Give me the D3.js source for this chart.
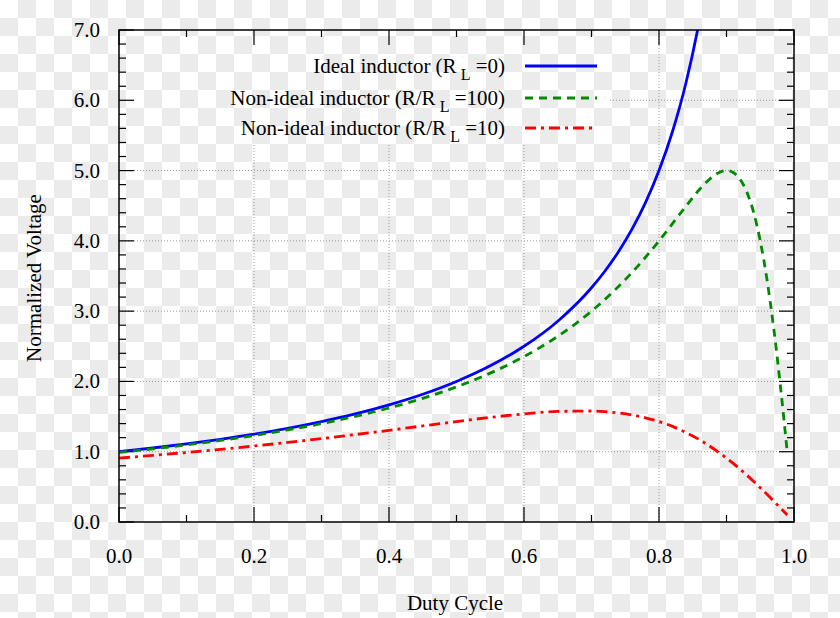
<!DOCTYPE html>
<html><head><meta charset="utf-8">
<script src="https://cdn.jsdelivr.net/npm/d3@7"></script>
<style>body{margin:0;padding:0;overflow:hidden;background:#fff}svg{display:block}</style>
</head><body>
<svg id="chart" width="840" height="618"></svg>
<script>
// Data
const duty = [0,0.05,0.1,0.15,0.2,0.25,0.3,0.35,0.4,0.45,0.5,0.55,0.6,0.65,0.7,0.72,0.74,0.76,0.78,0.8,0.82,0.84,0.86,0.88,0.89,0.9,0.91,0.92,0.93,0.94,0.95,0.96,0.97,0.98,0.99];
const ideal = [1.0,1.053,1.111,1.176,1.25,1.333,1.429,1.538,1.667,1.818,2.0,2.222,2.5,2.857,3.333,3.571,3.846,4.167,4.545,5.0,5.556,6.25,7.143,8.333,null,null,null,null,null,null,null,null,null,null,null];
const nonIdeal100 = [0.990,1.041,1.098,1.160,1.231,1.310,1.400,1.503,1.622,1.760,1.923,2.118,2.353,2.642,3.0,3.167,3.351,3.550,3.767,4.0,4.245,4.494,4.730,4.918,4.977,5.0,4.972,4.878,4.698,4.412,4.0,3.448,2.752,1.923,0.990];
const nonIdeal10 = [0.909,0.948,0.989,1.033,1.081,1.132,1.186,1.244,1.304,1.367,1.429,1.488,1.538,1.573,1.579,1.570,1.551,1.523,1.483,1.429,1.360,1.274,1.171,1.049,0.981,0.909,0.833,0.752,0.667,0.579,0.488,0.394,0.297,0.199,0.100];
const xTicks = [0,0.2,0.4,0.6,0.8,1.0];
const yTicks = [0,1,2,3,4,5,6,7];
const seriesNames = ["Ideal inductor (R", "Non-ideal inductor (R/R", "Non-ideal inductor (R/R"];
const seriesTails = [" =0)", " =100)", " =10)"];
const seriesColors = ["#0000ff", "#008a00", "#ff0000"];
const seriesDash = [null, "8,6", "11,5,3,5"];

const svg = d3.select("#chart");
const W = 840, H = 618;
const L = 119, R = 794, T = 30, B = 522;

// checkerboard background
const defs = svg.append("defs");
const pat = defs.append("pattern").attr("id","chk").attr("width",36).attr("height",36).attr("patternUnits","userSpaceOnUse");
pat.append("rect").attr("width",36).attr("height",36).attr("fill","#ffffff");
pat.append("rect").attr("x",18).attr("y",0).attr("width",18).attr("height",18).attr("fill","#ebebeb");
pat.append("rect").attr("x",0).attr("y",18).attr("width",18).attr("height",18).attr("fill","#ebebeb");
svg.append("rect").attr("width",W).attr("height",H).attr("fill","url(#chk)");

defs.append("clipPath").attr("id","clip").append("rect").attr("x",L).attr("y",T).attr("width",R-L).attr("height",B-T);

const x = d3.scaleLinear().domain([0,1]).range([L,R]);
const y = d3.scaleLinear().domain([0,7]).range([B,T]);

const font = "'Liberation Serif','Times New Roman',serif";
const fs = 21;

// grid (dotted), leaving the key area free
const grid = svg.append("g").attr("stroke","#9a9a9a").attr("stroke-width",1).attr("stroke-dasharray","1,2");
[0.2,0.4,0.6,0.8].forEach(v=>{
  const top = v < 0.7 ? 145 : T;
  grid.append("line").attr("x1",x(v)).attr("x2",x(v)).attr("y1",top).attr("y2",B);
});
[1,2,3,4,5,6].forEach(v=>{
  const left = v >= 6 ? 610 : L;
  grid.append("line").attr("x1",left).attr("x2",R).attr("y1",y(v)).attr("y2",y(v));
});

// ticks inward on all sides
const tk = svg.append("g").attr("stroke","#000").attr("stroke-width",1.2);
d3.range(0,1.0001,0.1).forEach((v,i)=>{
  const len = (i%2===0)?15:7;
  tk.append("line").attr("x1",x(v)).attr("x2",x(v)).attr("y1",B).attr("y2",B-len);
  tk.append("line").attr("x1",x(v)).attr("x2",x(v)).attr("y1",T).attr("y2",T+len);
});
d3.range(0,7.0001,0.2).forEach((v,i)=>{
  const len = (i%5===0)?15:7;
  tk.append("line").attr("x1",L).attr("x2",L+len).attr("y1",y(v)).attr("y2",y(v));
  tk.append("line").attr("x1",R).attr("x2",R-len).attr("y1",y(v)).attr("y2",y(v));
});

// tick labels
svg.append("g").selectAll("text").data(xTicks).join("text")
  .attr("x",d=>x(d)).attr("y",563).attr("text-anchor","middle")
  .attr("font-family",font).attr("font-size",fs).attr("fill","#000")
  .text(d=>d3.format(".1f")(d));
svg.append("g").selectAll("text").data(yTicks).join("text")
  .attr("x",100).attr("y",d=>y(d)+7).attr("text-anchor","end")
  .attr("font-family",font).attr("font-size",fs).attr("fill","#000")
  .text(d=>d3.format(".1f")(d));

// axis titles
svg.append("text").attr("x",455).attr("y",610).attr("text-anchor","middle")
  .attr("font-family",font).attr("font-size",fs).text("Duty Cycle");
svg.append("text").attr("transform","translate(41,278) rotate(-90)").attr("text-anchor","middle")
  .attr("font-family",font).attr("font-size",fs).text("Normalized Voltage");

// curves
const series = [ideal, nonIdeal100, nonIdeal10];
const line = d3.line().defined(d=>d[1]!==null).x(d=>x(d[0])).y(d=>y(d[1])).curve(d3.curveMonotoneX);
const plot = svg.append("g").attr("clip-path","url(#clip)");
series.forEach((s,i)=>{
  const pts = duty.map((d,j)=>[d,s[j]]);
  const p = plot.append("path").attr("d",line(pts)).attr("fill","none")
    .attr("stroke",seriesColors[i]).attr("stroke-width",2.8).attr("stroke-linejoin","round");
  if(seriesDash[i]) p.attr("stroke-dasharray",seriesDash[i]);
});

// key
const keyY = [66,98,128];
seriesNames.forEach((n,i)=>{
  const t = svg.append("text").attr("x",505).attr("y",keyY[i]+7).attr("text-anchor","end")
    .attr("font-family",font).attr("font-size",fs).attr("fill","#000");
  t.append("tspan").text(n);
  t.append("tspan").attr("font-size",16).attr("dy",7).text("\u00a0L");
  t.append("tspan").attr("dy",-7).text(seriesTails[i]);
  const l = svg.append("line").attr("x1",525).attr("x2",597).attr("y1",keyY[i]).attr("y2",keyY[i])
    .attr("stroke",seriesColors[i]).attr("stroke-width",2.8);
  if(seriesDash[i]) l.attr("stroke-dasharray",seriesDash[i]);
});

// frame
svg.append("rect").attr("x",L).attr("y",T).attr("width",R-L).attr("height",B-T)
  .attr("fill","none").attr("stroke","#000").attr("stroke-width",1.5);
</script>
</body></html>
